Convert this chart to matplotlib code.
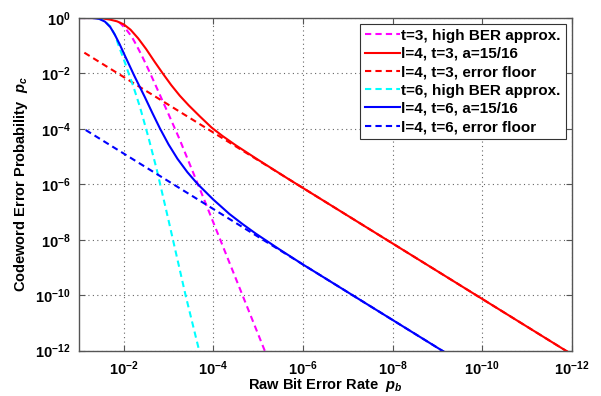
import numpy as np
import matplotlib
matplotlib.use("Agg")
import matplotlib.pyplot as plt

plt.rcParams['font.family'] = ['Liberation Sans', 'DejaVu Sans']
plt.rcParams['font.weight'] = 'bold'
plt.rcParams['mathtext.fontset'] = 'custom'
plt.rcParams['mathtext.rm'] = 'Liberation Sans:bold'
plt.rcParams['mathtext.bf'] = 'Liberation Sans:bold'
plt.rcParams['mathtext.it'] = 'Liberation Sans:bold:italic'

# values, as log10 (raw BER p_b, codeword error p_c)
t3_approx_lpb = [-1.9, -2.05, -2.18, -2.28, -2.41, -2.54, -2.67, -2.8, -3.0,
                 -3.24, -3.5, -3.8, -5.15]
t3_approx_lpc = [-0.15, -0.4, -0.68, -0.97, -1.38, -1.82, -2.28, -2.75, -3.47,
                 -4.35, -5.38, -6.57, -12.01]

t3_full_lpb = [-1.0, -1.4, -1.55, -1.7, -1.85, -2.0, -2.15, -2.32, -2.5, -2.69,
               -2.88, -3.06, -3.25, -3.45, -3.7, -3.96, -4.2, -4.5, -5.0,
               -5.66, -6.5, -7.0, -12.0]
t3_full_lpc = [0.0, 0.0, -0.02, -0.06, -0.12, -0.23, -0.42, -0.73, -1.12, -1.58,
               -2.02, -2.42, -2.8, -3.15, -3.55, -3.95, -4.25, -4.59, -5.115,
               -5.79, -6.63, -7.13, -12.13]

t3_floor_lpb = [-1.12, -12.0]
t3_floor_lpc = [-1.25, -12.13]

t6_approx_lpb = [-1.4, -1.55, -1.7, -1.8, -1.91, -2.02, -2.11, -2.21, -2.36,
                 -2.55, -2.74, -3.0, -3.38, -3.69]
t6_approx_lpc = [0.0, -0.08, -0.3, -0.6, -1.1, -1.58, -2.0, -2.45, -3.2,
                 -4.3, -5.49, -7.3, -10.0, -12.04]

t6_full_lpb = [-1.0, -1.3, -1.45, -1.58, -1.7, -1.8, -1.91, -2.02, -2.13, -2.24,
               -2.35, -2.47, -2.64, -2.81, -3.0, -3.2, -3.42, -3.65, -4.0,
               -4.36, -4.65, -4.95, -5.47, -6.0, -6.5, -9.15]
t6_full_lpc = [0.0, 0.0, -0.03, -0.13, -0.33, -0.6, -0.95, -1.34, -1.72, -2.1,
               -2.46, -2.85, -3.43, -3.99, -4.56, -5.08, -5.56, -5.99, -6.55,
               -7.07, -7.43, -7.78, -8.34, -8.89, -9.39, -12.04]

t6_floor_lpb = [-1.15, -9.15]
t6_floor_lpc = [-4.04, -12.04]

labels = ["t=3, high BER approx.", "l=4, t=3, a=15/16", "l=4, t=3, error floor",
          "t=6, high BER approx.", "l=4, t=6, a=15/16", "l=4, t=6, error floor"]

xtick_exp = [-2, -4, -6, -8, -10, -12]
ytick_exp = [0, -2, -4, -6, -8, -10, -12]

fig = plt.figure(figsize=(6.01, 3.96), dpi=100)
ax = fig.add_axes([0.1314, 0.1144, 0.8198, 0.8401])

dash = (3, 2)
series = [
    (t3_approx_lpb, t3_approx_lpc, '#ff00ff', True),
    (t3_full_lpb, t3_full_lpc, '#ff0000', False),
    (t3_floor_lpb, t3_floor_lpc, '#ff0000', True),
    (t6_approx_lpb, t6_approx_lpc, '#00ffff', True),
    (t6_full_lpb, t6_full_lpc, '#0000ff', False),
    (t6_floor_lpb, t6_floor_lpc, '#0000ff', True),
]
for (lpb, lpc, col, dashed), lab in zip(series, labels):
    pb = 10.0 ** np.array(lpb)
    pc = 10.0 ** np.array(lpc)
    if dashed:
        ax.loglog(pb, pc, color=col, lw=1.5, dashes=dash, label=lab)
    else:
        ax.loglog(pb, pc, color=col, lw=1.5, label=lab, solid_joinstyle='round')

ax.set_xlim(1e-1, 1e-12)
ax.set_ylim(1e-12, 1e0)

ax.set_xticks([10.0 ** e for e in xtick_exp])
ax.set_xticklabels([r'$\mathbf{10^{%d}}$' % e for e in xtick_exp])
ax.set_yticks([10.0 ** e for e in ytick_exp])
ax.set_yticklabels([r'$\mathbf{10^{%d}}$' % e for e in ytick_exp])
ax.minorticks_off()
ax.tick_params(which='both', direction='in', top=True, right=True,
               length=4, width=0.8, color='#555555', labelsize=10.5, pad=6)

ax.grid(True, which='major', linestyle=(0, (1, 3)), color='#666666', lw=0.8)
for s in ax.spines.values():
    s.set_color('#555555')
    s.set_linewidth(1.0)

ax.set_xlabel(r'Raw Bit Error Rate  $p_b$', fontsize=10.5, fontweight='bold', labelpad=-1)
ax.set_ylabel(r'Codeword Error Probability  $p_c$', fontsize=10.5, fontweight='bold', labelpad=4)

leg = ax.legend(loc='upper right', fontsize=11, handlelength=2.3, handletextpad=0.1,
                labelspacing=0.28, borderpad=0.3, borderaxespad=0.4, fancybox=False,
                framealpha=1.0, edgecolor='#333333')
leg.get_frame().set_linewidth(0.8)

fig.savefig('out.png', dpi=100)
